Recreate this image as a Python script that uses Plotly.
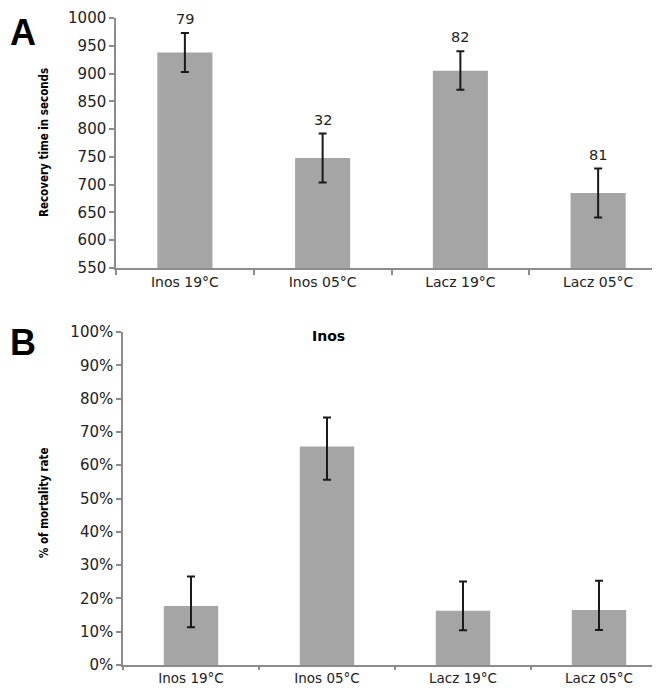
import plotly.graph_objects as go

categories = ["Inos 19°C", "Inos 05°C", "Lacz 19°C", "Lacz 05°C"]

# Panel A: recovery time (seconds)
recovery = [938, 748, 905, 685]
recovery_err_plus = [35, 44, 35, 44]
recovery_err_minus = [35, 44, 34, 44]
n_labels = ["79", "32", "82", "81"]
recovery_ticks = [550, 600, 650, 700, 750, 800, 850, 900, 950, 1000]

# Panel B: mortality rate (%)
mortality = [17.7, 65.6, 16.3, 16.5]
mortality_err_plus = [8.9, 8.7, 8.8, 8.8]
mortality_err_minus = [6.4, 10.0, 5.9, 6.0]
mortality_ticks = [0, 10, 20, 30, 40, 50, 60, 70, 80, 90, 100]

BAR = "#a5a5a5"
AX = "#8c8c8c"
FONT = "DejaVu Sans"
NARROW = "Liberation Sans Narrow, DejaVu Sans Condensed, Arial Narrow, sans-serif"

fig = go.Figure()

fig.add_trace(go.Bar(
    x=categories, y=recovery, width=0.4, marker=dict(color=BAR, line=dict(width=0)),
    error_y=dict(type="data", array=recovery_err_plus, arrayminus=recovery_err_minus,
                 color="#1a1a1a", thickness=2, width=4),
    xaxis="x", yaxis="y", showlegend=False, hoverinfo="skip"))

fig.add_trace(go.Bar(
    x=categories, y=mortality, width=0.4, marker=dict(color=BAR, line=dict(width=0)),
    error_y=dict(type="data", array=mortality_err_plus, arrayminus=mortality_err_minus,
                 color="#1a1a1a", thickness=2, width=4),
    xaxis="x2", yaxis="y2", showlegend=False, hoverinfo="skip"))

axis_common = dict(showline=True, linecolor=AX, linewidth=1.5, showgrid=False, zeroline=False,
                   ticks="outside", tickcolor=AX, ticklen=5, tickwidth=1.5, automargin=False)
xfont = dict(family=FONT, size=14, color="#222")
x2font = dict(family=FONT, size=13.5, color="#222")
yfont = dict(family=FONT, size=15, color="#222")

fig.update_layout(
    width=660, height=689,
    margin=dict(l=0, r=0, t=0, b=0),
    paper_bgcolor="white", plot_bgcolor="white",
    xaxis=dict(domain=[108/660, 659/660], anchor="y", type="category",
               range=[-0.5, 3.5], tickson="boundaries", tickfont=xfont, **axis_common),
    yaxis=dict(domain=[1-260/689, 1-10/689], anchor="x", range=[550, 1000],
               tickvals=recovery_ticks, tickfont=yfont, **axis_common),
    xaxis2=dict(domain=[115/660, 659/660], anchor="y2", type="category",
                range=[-0.5, 3.5], tickson="boundaries", tickfont=x2font,
                **{**axis_common, "ticklen": 3}),
    yaxis2=dict(domain=[1-657/689, 1-324/689], anchor="x2", range=[0, 100],
                tickvals=mortality_ticks, ticktext=[f"{v}%" for v in mortality_ticks],
                tickfont=yfont, **axis_common),
)

annotations = []
for c, v, e, lab in zip(categories, recovery, recovery_err_plus, n_labels):
    annotations.append(dict(x=c, y=v + e, xref="x", yref="y", text=lab, showarrow=False,
                            yanchor="bottom", yshift=4,
                            font=dict(family=FONT, size=14.5, color="#222")))

annotations += [
    dict(x=0.0, y=1-2/689, xref="paper", yref="paper", text="<b>A</b>", showarrow=False,
         xanchor="left", yanchor="top", font=dict(family="Liberation Sans, Arial", size=36, color="black")),
    dict(x=0.0, y=1-312/689, xref="paper", yref="paper", text="<b>B</b>", showarrow=False,
         xanchor="left", yanchor="top", font=dict(family="Liberation Sans, Arial", size=36, color="black")),
    dict(x=36/660, y=1-135/689, xref="paper", yref="paper", text="<b>Recovery time in seconds</b>",
         showarrow=False, textangle=-90, xanchor="center", yanchor="middle",
         font=dict(family=NARROW, size=11.5, color="black")),
    dict(x=36/660, y=1-495/689, xref="paper", yref="paper", text="<b>% of mortality rate</b>",
         showarrow=False, textangle=-90, xanchor="center", yanchor="middle",
         font=dict(family=NARROW, size=11.5, color="black")),
    dict(x=320/660, y=1-328/689, xref="paper", yref="paper", text="<b>Inos</b>",
         showarrow=False, xanchor="center", yanchor="middle",
         font=dict(family=FONT, size=14, color="black")),
]
fig.update_layout(annotations=annotations)

fig.write_html("out.html")
